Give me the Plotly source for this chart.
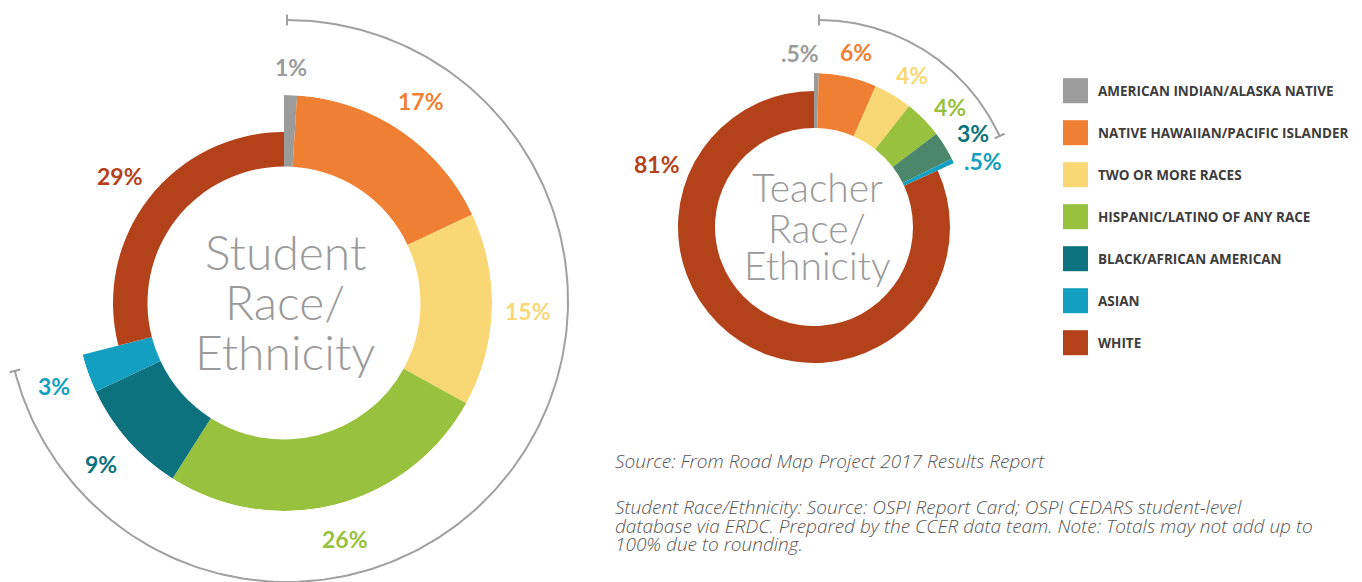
import math
import plotly.graph_objects as go

W, H = 1362, 582

# ---- data -------------------------------------------------------------
categories = [
    "AMERICAN INDIAN/ALASKA NATIVE",
    "NATIVE HAWAIIAN/PACIFIC ISLANDER",
    "TWO OR MORE RACES",
    "HISPANIC/LATINO OF ANY RACE",
    "BLACK/AFRICAN AMERICAN",
    "ASIAN",
    "WHITE",
]
student_pct = [1, 17, 15, 26, 9, 3, 29]
teacher_pct = [0.5, 6, 4, 4, 3, 0.5, 81]

student_title = ["Student", "Race/", "Ethnicity"]
teacher_title = ["Teacher", "Race/", "Ethnicity"]

source_line = "Source: From Road Map Project 2017 Results Report"
note_lines = [
    "Student Race/Ethnicity: Source: OSPI Report Card; OSPI CEDARS student-level",
    "database via ERDC. Prepared by the CCER data team. Note: Totals may not add up to",
    "100% due to rounding.",
]

# ---- styles -----------------------------------------------------------
category_colors = ["#9b9b9b", "#ef7f33", "#f9d774", "#98c13d", "#0b727e", "#139fc0", "#b3421a"]
teacher_slice_colors = list(category_colors)
teacher_slice_colors[4] = "#4c866b"
arc_color = "#a0a0a0"
title_color = "#9a9a9a"
LABEL_FONT = "Lato"
TEXT_FONT = "Open Sans"

# ring geometry (pixels): centre, inner radius, outer radius, outer radius of the majority slice
student_ring = dict(cx=284, cy=303, r_in=136.5, r_out=208, r_major=171)
teacher_ring = dict(cx=814, cy=227, r_in=99, r_out=154, r_major=136)

# bracket arcs around the non-white slices
student_arc = dict(cx=287, cy=301, r=281)
teacher_arc = dict(cx=819, cy=218.5, r=198.5)

# label placement: (angle in degrees clockwise from 12 o'clock, radius in px)
student_label_gap = 36
teacher_label_pos = [(-4.6, 175), (13.5, 180), (32.8, 181), (48.6, 181),
                     (59.4, 185), (68.7, 181), (291.9, 169)]


def pct_text(v):
    s = f"{v:g}"
    if s.startswith("0."):
        s = s[1:]
    return s + "%"


def slice_angles(pcts):
    total = sum(pcts)
    spans = [p / total * 360 for p in pcts]
    starts, acc = [], 0.0
    for s in spans:
        starts.append(acc)
        acc += s
    mids = [a + s / 2 for a, s in zip(starts, spans)]
    return starts, spans, mids


def polar_point(cx, cy, r, deg):
    t = math.radians(deg)
    return cx + r * math.sin(t), cy - r * math.cos(t)


fig = go.Figure()
annotations = []
shapes = []


def add_ring(pcts, colors, ring, polar_name):
    starts, spans, mids = slice_angles(pcts)
    major = pcts.index(max(pcts))
    thickness = [(ring["r_major"] if i == major else ring["r_out"]) - ring["r_in"]
                 for i in range(len(pcts))]
    fig.add_trace(go.Barpolar(
        theta=mids, width=spans, base=[ring["r_in"]] * len(pcts), r=thickness,
        marker=dict(color=colors, line=dict(width=0)),
        customdata=[pct_text(v) for v in pcts], hovertext=categories,
        hovertemplate="%{hovertext}: %{customdata}<extra></extra>",
        subplot=polar_name, showlegend=False,
    ))
    ro = ring["r_out"]
    fig.update_layout(**{polar_name: dict(
        domain=dict(x=[(ring["cx"] - ro) / W, (ring["cx"] + ro) / W],
                    y=[(H - ring["cy"] - ro) / H, (H - ring["cy"] + ro) / H]),
        bgcolor="rgba(0,0,0,0)",
        radialaxis=dict(range=[0, ro], visible=False),
        angularaxis=dict(rotation=90, direction="clockwise", visible=False),
    )})
    return starts, spans, mids, major


def add_arc(pcts, arc, major):
    # bracket spans every slice except the majority group
    _, spans, _ = slice_angles(pcts)
    end = sum(s for i, s in enumerate(spans) if i != major)
    n = 200
    xs, ys = [], []
    for k in range(n + 1):
        x, y = polar_point(arc["cx"], arc["cy"], arc["r"], end * k / n)
        xs.append(x)
        ys.append(y)
    fig.add_trace(go.Scatter(x=xs, y=ys, mode="lines", line=dict(color=arc_color, width=2),
                             hoverinfo="skip", showlegend=False))
    for a in (0, end):
        x0, y0 = polar_point(arc["cx"], arc["cy"], arc["r"] - 5.5, a)
        x1, y1 = polar_point(arc["cx"], arc["cy"], arc["r"] + 5.5, a)
        fig.add_trace(go.Scatter(x=[x0, x1], y=[y0, y1], mode="lines",
                                 line=dict(color=arc_color, width=2),
                                 hoverinfo="skip", showlegend=False))


def add_title(lines, cx, centres, size):
    for text, cy in zip(lines, centres):
        annotations.append(dict(
            x=cx, y=cy, xref="x", yref="y", text=text, showarrow=False,
            xanchor="center", yanchor="middle",
            font=dict(family=LABEL_FONT, size=size, color=title_color, weight=300),
        ))


def add_pct_label(x, y, v, color):
    annotations.append(dict(x=x, y=y, xref="x", yref="y", text=pct_text(v), showarrow=False,
                            xanchor="center", yanchor="middle",
                            font=dict(family=LABEL_FONT, size=23, color=color, weight="bold")))


# student ring
s_starts, s_spans, s_mids, s_major = add_ring(student_pct, category_colors, student_ring, "polar")
add_arc(student_pct, student_arc, s_major)
for i, v in enumerate(student_pct):
    outer = student_ring["r_major"] if i == s_major else student_ring["r_out"]
    r = outer + student_label_gap - (8 if i == 0 else 0)
    x, y = polar_point(student_ring["cx"], student_ring["cy"], r, s_mids[i])
    add_pct_label(x, y, v, category_colors[i])
add_title(student_title, 285, [251.5, 301, 351], 48)

# teacher ring
t_starts, t_spans, t_mids, t_major = add_ring(teacher_pct, teacher_slice_colors, teacher_ring, "polar2")
add_arc(teacher_pct, teacher_arc, t_major)
for i, v in enumerate(teacher_pct):
    ang, r = teacher_label_pos[i]
    x, y = polar_point(teacher_ring["cx"], teacher_ring["cy"], r, ang)
    add_pct_label(x, y, v, category_colors[i])
add_title(teacher_title, 817, [186.5, 228, 265], 39)

# legend
legend_x, legend_y0, legend_step, swatch = 1063, 90.7, 42, 25
for i, (name, col) in enumerate(zip(categories, category_colors)):
    yc = legend_y0 + i * legend_step
    shapes.append(dict(type="rect", xref="x", yref="y", x0=legend_x, x1=legend_x + swatch,
                       y0=yc - swatch / 2, y1=yc + swatch / 2,
                       fillcolor=col, line=dict(width=0)))
    annotations.append(dict(x=legend_x + swatch + 8, y=yc, xref="x", yref="y", text=name,
                            showarrow=False, xanchor="left", yanchor="middle",
                            font=dict(family=TEXT_FONT, size=13.5, color="#3d3d3d",
                                      weight="bold")))

# source notes
note_font = dict(family=TEXT_FONT, size=19, color="#555555", style="italic", weight=300)
annotations.append(dict(x=613, y=461, xref="x", yref="y", text=source_line, showarrow=False,
                        xanchor="left", yanchor="middle", font=note_font))
for k, line in enumerate(note_lines):
    annotations.append(dict(x=613, y=507 + k * 18.5, xref="x", yref="y", text=line,
                            showarrow=False, xanchor="left", yanchor="middle", font=note_font))

fig.update_layout(
    width=W, height=H,
    margin=dict(l=0, r=0, t=0, b=0),
    paper_bgcolor="white", plot_bgcolor="rgba(0,0,0,0)",
    xaxis=dict(range=[0, W], domain=[0, 1], visible=False, fixedrange=True),
    yaxis=dict(range=[H, 0], domain=[0, 1], visible=False, fixedrange=True),
    showlegend=False,
    annotations=annotations,
    shapes=shapes,
)

fig.write_html("out.html", config={"displayModeBar": False})
